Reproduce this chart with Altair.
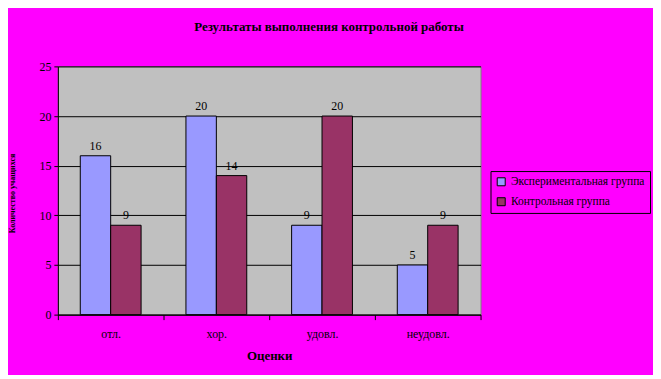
import altair as alt
import pandas as pd

categories = ["отл.", "хор.", "удовл.", "неудовл."]
series = ["Экспериментальная группа", "Контрольная группа"]
exp_values = [16, 20, 9, 5]
ctrl_values = [9, 14, 20, 9]
colors = ["#9999FF", "#993366"]

rows = []
for c, e, k in zip(categories, exp_values, ctrl_values):
    rows.append({"cat": c, "group": series[0], "value": e})
    rows.append({"cat": c, "group": series[1], "value": k})
df = pd.DataFrame(rows)

FONT = "Liberation Serif"

x = alt.X("cat:N", sort=categories,
          scale=alt.Scale(paddingInner=0, paddingOuter=0),
          axis=alt.Axis(title="Оценки", labelAngle=0, tickBand="extent",
                        domainColor="black", tickColor="black", tickSize=5,
                        labelFont=FONT, labelFontSize=12, labelColor="black",
                        labelPadding=9, titleFont=FONT, titleFontSize=13,
                        titleFontWeight="bold", titleColor="black", titlePadding=10,
                        grid=False))
xo = alt.XOffset("group:N", sort=series,
                 scale=alt.Scale(paddingInner=0, paddingOuter=0.7375))
y = alt.Y("value:Q",
          scale=alt.Scale(domain=[0, 25], nice=False),
          axis=alt.Axis(title="Количество учащихся", values=[0, 5, 10, 15, 20, 25],
                        domainColor="black", tickColor="black", tickSize=4,
                        labelFont=FONT, labelFontSize=12, labelColor="black",
                        labelPadding=3, titleFont=FONT, titleFontSize=8,
                        titleFontWeight="bold", titleColor="black",
                        titleX=-41, titleY=127,
                        grid=True, gridColor="black", gridWidth=1, gridOpacity=1))
color = alt.Color("group:N", sort=series,
                  scale=alt.Scale(domain=series, range=colors),
                  legend=alt.Legend(title=None, orient="none", legendX=434, legendY=105,
                                    direction="vertical", symbolType="square",
                                    symbolSize=64, symbolStrokeColor="black",
                                    symbolStrokeWidth=1, symbolOpacity=1, labelFont=FONT,
                                    labelFontSize=11.5, labelColor="black", labelOffset=4,
                                    strokeColor="black", padding=5, rowPadding=7,
                                    fillColor="#FF00FF", labelLimit=200))

bars = alt.Chart(df).mark_bar(stroke="black", strokeWidth=1).encode(
    x=x, xOffset=xo, y=y, color=color)
labels = alt.Chart(df).mark_text(dy=-10, font=FONT, fontSize=12, color="black").encode(
    x=x, xOffset=xo, y=y, text="value:Q")

chart = alt.layer(bars, labels).properties(
    width=424, height=249,
    autosize=alt.AutoSizeParams(type="none"),
    padding={"left": 50, "top": 58, "right": 173, "bottom": 60},
    background="#FF00FF",
    title=alt.TitleParams("Результаты выполнения контрольной работы", font=FONT,
                          fontSize=13, fontWeight="bold", color="black",
                          anchor="middle", dx=60, offset=26),
).configure_view(fill="#C0C0C0", stroke="#808080", strokeWidth=1)

chart.save("out.html", embed_options={"renderer": "svg", "actions": False})
